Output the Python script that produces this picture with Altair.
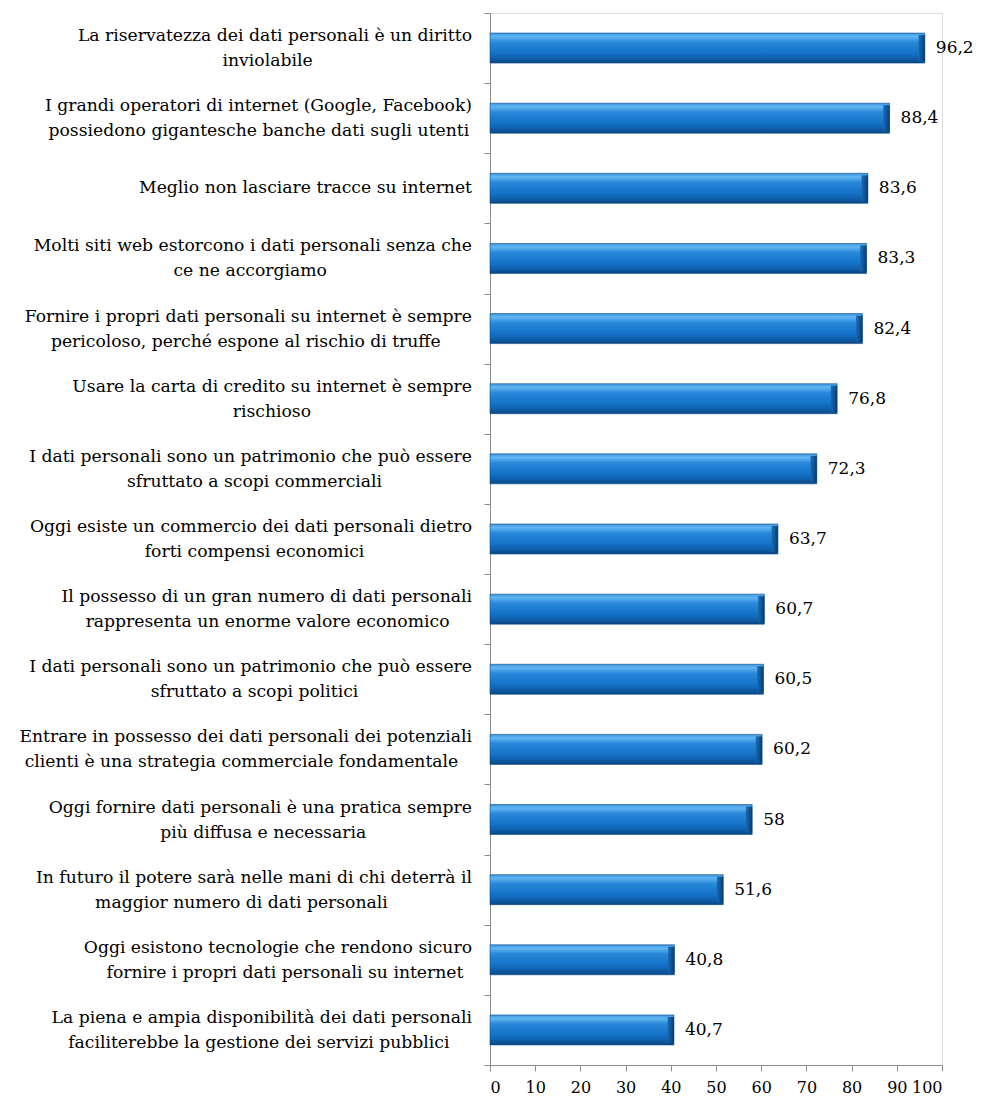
import altair as alt
import pandas as pd

labels = [
    "La riservatezza dei dati personali è un diritto|inviolabile",
    "I grandi operatori di internet (Google, Facebook)|possiedono gigantesche banche dati sugli utenti",
    "Meglio non lasciare tracce su internet",
    "Molti siti web estorcono i dati personali senza che|ce ne accorgiamo",
    "Fornire i propri dati personali su internet è sempre|pericoloso, perché espone al rischio di truffe",
    "Usare la carta di credito su internet è sempre|rischioso",
    "I dati personali sono un patrimonio che può essere|sfruttato a scopi commerciali",
    "Oggi esiste un commercio dei dati personali dietro|forti compensi economici",
    "Il possesso di un gran numero di dati personali|rappresenta un enorme valore economico",
    "I dati personali sono un patrimonio che può essere|sfruttato a scopi politici",
    "Entrare in possesso dei dati personali dei potenziali|clienti è una strategia commerciale fondamentale",
    "Oggi fornire dati personali è una pratica sempre|più diffusa e necessaria",
    "In futuro il potere sarà nelle mani di chi deterrà il|maggior numero di dati personali",
    "Oggi esistono tecnologie che rendono sicuro|fornire i propri dati personali su internet",
    "La piena e ampia disponibilità dei dati personali|faciliterebbe la gestione dei servizi pubblici",
]
values = [96.2, 88.4, 83.6, 83.3, 82.4, 76.8, 72.3, 63.7, 60.7, 60.5, 60.2, 58, 51.6, 40.8, 40.7]
x_ticks = [0, 10, 20, 30, 40, 50, 60, 70, 80, 90, 100]

df = pd.DataFrame({"label": labels, "value": values})

FONT = "DejaVu Serif"
LABEL_SIZE = 17.2
GAP = -18

y_enc = alt.Y(
    "label:N",
    sort=labels,
    title=None,
    scale=alt.Scale(paddingInner=0, paddingOuter=0),
    axis=alt.Axis(
        labels=False,
        domainColor="#8c8c8c",
        tickColor="#8c8c8c",
        tickSize=6,
        tickBand="extent",
        grid=False,
    ),
)
y_plain = alt.Y("label:N", sort=labels)
x_scale = alt.Scale(domain=[0, 100], nice=False)

body = alt.Gradient(
    gradient="linear",
    x1=0, x2=0, y1=0, y2=1,
    stops=[
        alt.GradientStop(color="#3b95df", offset=0),
        alt.GradientStop(color="#62b6f2", offset=0.12),
        alt.GradientStop(color="#2a88da", offset=0.3),
        alt.GradientStop(color="#1573c8", offset=0.65),
        alt.GradientStop(color="#0f62b0", offset=0.82),
        alt.GradientStop(color="#0a4682", offset=1),
    ],
)
cap = alt.Gradient(
    gradient="linear",
    x1=0, x2=1, y1=0, y2=0,
    stops=[
        alt.GradientStop(color="#1668b4", offset=0),
        alt.GradientStop(color="#0c4c8a", offset=0.6),
        alt.GradientStop(color="#07335f", offset=1),
    ],
)

base = alt.Chart(df)

bars = base.mark_bar(color=body, size=30, stroke="#0b4b86", strokeWidth=0.6).encode(
    x=alt.X(
        "value:Q",
        scale=x_scale,
        title=None,
        axis=alt.Axis(
            values=x_ticks,
            grid=False,
            domainColor="#8c8c8c",
            tickColor="#8c8c8c",
            tickSize=6,
            labelFont=FONT,
            labelFontSize=16,
            labelColor="black",
            labelPadding=8,
            labelOverlap=False,
        ),
    ),
    x2=alt.value(0),
    y=y_enc,
)

caps = base.transform_calculate(start="datum.value - 1.4").mark_bar(
    color=cap, size=26, opacity=0.9
).encode(
    x=alt.X("start:Q", scale=x_scale),
    x2="value:Q",
    y=y_plain,
)

vals = base.transform_calculate(
    txt="replace(toString(datum.value), '.', ',')"
).mark_text(
    align="left", baseline="middle", dx=11, font=FONT, fontSize=17, color="black"
).encode(
    x=alt.X("value:Q", scale=x_scale),
    y=y_plain,
    text="txt:N",
)

two = base.transform_filter("indexof(datum.label, '|') >= 0").transform_calculate(
    l1="split(datum.label, '|')[0]",
    l2="split(datum.label, '|')[1]",
    cx=f"{GAP} - length(split(datum.label, '|')[0]) * 8.7 / 2",
)
one = base.transform_filter("indexof(datum.label, '|') < 0")

line1 = two.mark_text(
    align="right", baseline="middle", dy=-12, font=FONT, fontSize=LABEL_SIZE, color="black"
).encode(x=alt.value(GAP), y=y_plain, text="l1:N")

line2 = two.mark_text(
    align="center", baseline="middle", dy=13, font=FONT, fontSize=LABEL_SIZE, color="black"
).encode(x=alt.X("cx:Q", scale=None), y=y_plain, text="l2:N")

single = one.mark_text(
    align="right", baseline="middle", font=FONT, fontSize=LABEL_SIZE, color="black"
).encode(x=alt.value(GAP), y=y_plain, text="label:N")

chart = alt.layer(bars, caps, vals, line1, line2, single).properties(
    width=452,
    height=1052,
    autosize=alt.AutoSizeParams(type="none"),
    padding={"left": 482, "top": 5, "right": 32, "bottom": 36},
).configure_view(stroke=None).configure(background="white")

chart.save("out.html", embed_options={"renderer": "svg", "actions": False})
